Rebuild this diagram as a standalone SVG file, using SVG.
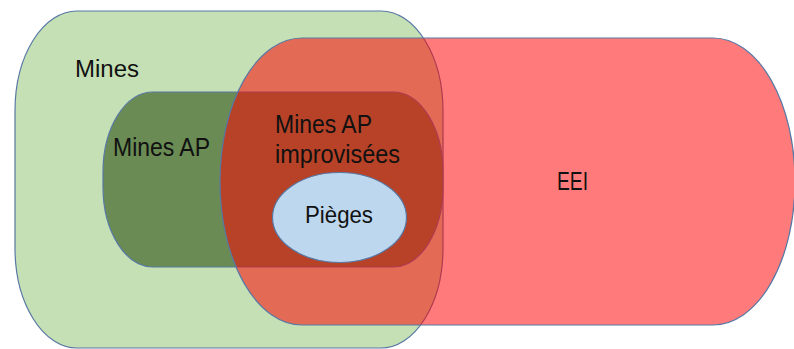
<svg xmlns="http://www.w3.org/2000/svg" width="794" height="349" viewBox="0 0 794 349">
  <style>
    .edge { stroke: #5878A4; stroke-width: 1.2; }
    .lbl { font-family: "Liberation Sans", Arial, sans-serif; fill: #111; }
  </style>
  <rect x="0" y="0" width="794" height="349" fill="#ffffff"/>
  <g id="mines">
    <rect class="edge" x="15" y="11" width="428" height="337" rx="62" ry="100" fill="#C5E0B4"/>
    <text class="lbl" x="75" y="77" font-size="23" textLength="64" lengthAdjust="spacingAndGlyphs">Mines</text>
  </g>
  <g id="mines-ap">
    <rect class="edge" x="103" y="92" width="340" height="175" rx="50" ry="80" fill="#6A8B53"/>
    <text class="lbl" x="113" y="156" font-size="25" textLength="97" lengthAdjust="spacingAndGlyphs">Mines AP</text>
  </g>
  <g id="eei">
    <rect class="edge" x="220" y="38" width="575" height="287" rx="82" ry="143" fill="#FF0000" fill-opacity="0.52"/>
    <text class="lbl" x="557" y="190" font-size="26" textLength="31" lengthAdjust="spacingAndGlyphs">EEI</text>
  </g>
  <g id="mines-ap-improvisees">
    <text class="lbl" x="275" y="133" font-size="25" textLength="97" lengthAdjust="spacingAndGlyphs">Mines AP</text>
    <text class="lbl" x="275" y="163" font-size="25" textLength="125" lengthAdjust="spacingAndGlyphs">improvisées</text>
  </g>
  <g id="pieges">
    <ellipse class="edge" cx="339.5" cy="217.5" rx="67" ry="45" fill="#BDD7EE"/>
    <text class="lbl" x="305" y="223" font-size="24" textLength="68" lengthAdjust="spacingAndGlyphs">Pièges</text>
  </g>
</svg>
